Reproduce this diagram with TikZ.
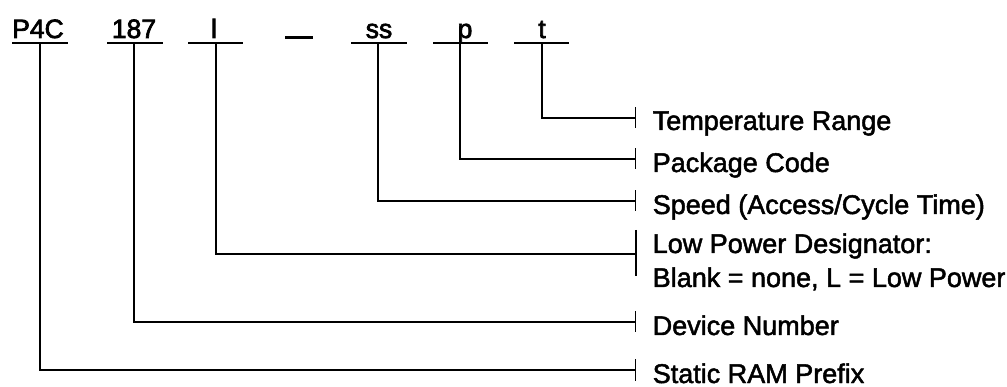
\documentclass[tikz,border=0pt]{standalone}
\usepackage{fontspec}
\setmainfont[FakeBold=1.8]{Liberation Sans}
\newfontfamily\codefont[FakeBold=2.6]{Liberation Sans}
\usetikzlibrary{arrows.meta}
\begin{document}
\begin{tikzpicture}[x=1pt,y=-1pt,
  every path/.style={line width=1.5pt},
  code/.style={anchor=base,inner sep=0pt,font=\codefont\fontsize{26.5}{31}\selectfont},
  lab/.style={anchor=base west,inner sep=0pt,font=\fontsize{27}{34}\selectfont},
  conn/.style={-{Bar[width=21pt,line width=1.5pt]}}]
\useasboundingbox (0,0) rectangle (1007,387);
% codes
\node[code] (cP) at (38,38) {P4C};
\node[code] (cN) at (134,38) {187};
\node[code] (cL) at (214,38) {l};
\node[code] (cS) at (379,38) {ss};
\node[code] (cK) at (465,38) {p};
\node[code] (cT) at (542,38) {t};
% underlines
\draw (12,43) -- (68,43);
\draw (107,43) -- (163,43);
\draw (188,43) -- (243,43);
\draw (351,43) -- (407,43);
\draw (433,43) -- (488,43);
\draw (514,43) -- (569,43);
\draw[line width=3pt] (285,38) -- (313,38);
% attachment points
\coordinate (uP) at (40,43);
\coordinate (uN) at (134,43);
\coordinate (uL) at (216,43);
\coordinate (uS) at (378,43);
\coordinate (uK) at (460,43);
\coordinate (uT) at (542,43);
% tick points
\coordinate (kT) at (636,118);
\coordinate (kK) at (636,159);
\coordinate (kS) at (636,201);
\coordinate (kL) at (636,254);
\coordinate (kN) at (636,322);
\coordinate (kP) at (636,370);
% labels
\node[lab] (lT) at (652,130) {Temperature Range};
\node[lab] (lK) at (652,172) {Package Code};
\node[lab] (lS) at (652,214) {Speed (Access/Cycle Time)};
\node[lab] (lL1) at (652,253) {Low Power Designator:};
\node[lab] (lL2) at (652,287) {Blank = none, L = Low Power};
\node[lab] (lN) at (652,335) {Device Number};
\node[lab] (lP) at (652,383) {Static RAM Prefix};
% connectors
\draw[conn] (uT) |- (kT);
\draw[conn] (uK) |- (kK);
\draw[conn] (uS) |- (kS);
\draw (uL) |- (kL);
\draw (636,230) -- (636,276);
\draw[conn] (uN) |- (kN);
\draw[conn] (uP) |- (kP);
\end{tikzpicture}
\end{document}
